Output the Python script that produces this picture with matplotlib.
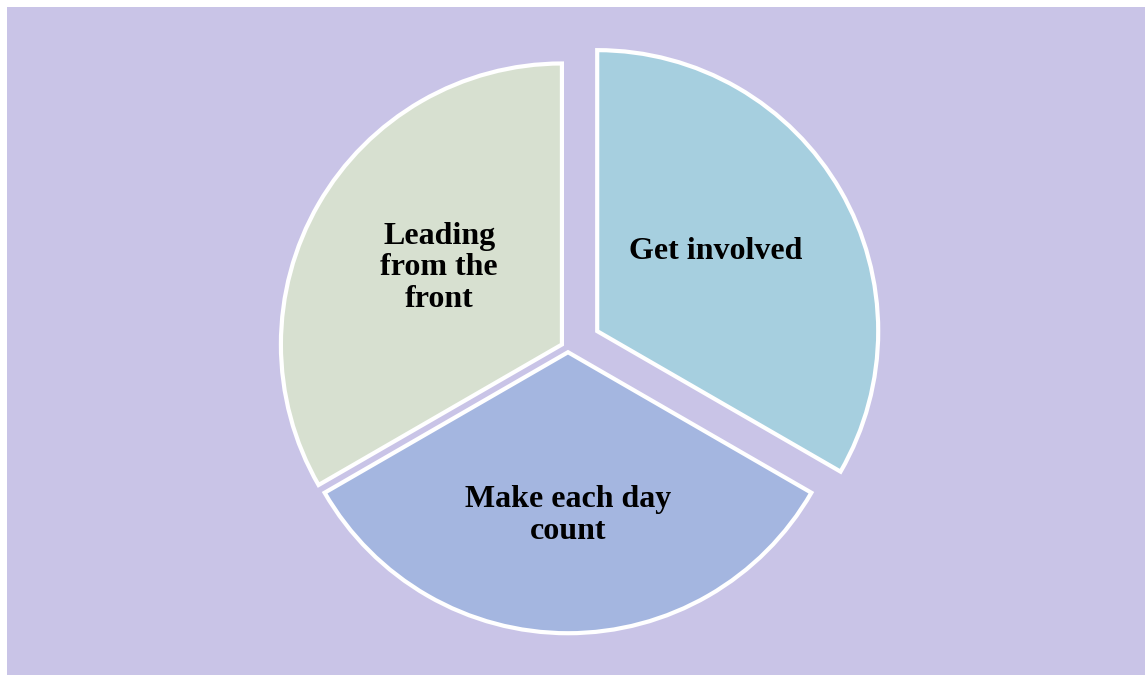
import numpy as np
import matplotlib.pyplot as plt

# 数据
labels = ['Get involved', 'Make each day\ncount', 'Leading\nfrom the\nfront']
sizes = [1, 1, 1]
explode = [0.12, 0.015, 0.025]
colors = ['#A6CFDF', '#A4B6E0', '#D7E0D0']
bg_color = '#C9C4E7'

# 标签位置微调 (相对半径, 角度偏移)
label_dist = [0.51, 0.58, 0.515]
label_shift = [4.0, 0, -2.0]

W, H = 1145, 675
fig = plt.figure(figsize=(W / 100, H / 100), dpi=100)
fig.patch.set_facecolor('white')

# 背景
bg = fig.add_axes([7 / W, 0, 1 - 7 / W, 1 - 7 / H])
bg.set_facecolor(bg_color)
bg.set_xticks([])
bg.set_yticks([])
for s in bg.spines.values():
    s.set_visible(False)

# 饼图坐标轴: 半径约 281 像素, 中心约 (568, 348)
R = 281
lim = 1.15
side = 2 * lim * R
cx, cy = 568, H - 348
ax = fig.add_axes([(cx - side / 2) / W, (cy - side / 2) / H, side / W, side / H])
ax.set_facecolor('none')

wedges, texts = ax.pie(sizes, labels=labels, explode=explode, colors=colors,
                       startangle=90, counterclock=False, labeldistance=0.53,
                       wedgeprops=dict(edgecolor='white', linewidth=3.0))
for w, t, d, sh in zip(wedges, texts, label_dist, label_shift):
    ang = np.deg2rad((w.theta1 + w.theta2) / 2 + sh)
    t.set_position((w.center[0] + d * np.cos(ang), w.center[1] + d * np.sin(ang)))
    t.set_ha('center')
    t.set_va('center')
    t.set_family('Liberation Serif')
    t.set_fontweight('bold')
    t.set_fontsize(23)
    t.set_linespacing(1.12)
    t.set_color('black')
ax.set_xlim(-lim, lim)
ax.set_ylim(-lim, lim)
ax.axis('off')

plt.savefig('out.png', dpi=100, facecolor=fig.get_facecolor())
